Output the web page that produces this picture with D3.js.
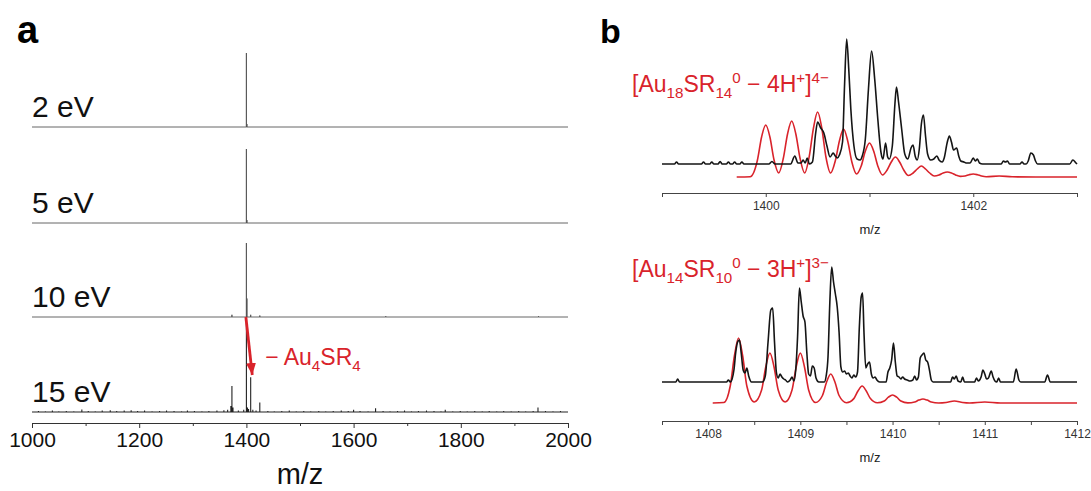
<!DOCTYPE html>
<html>
<head>
<meta charset="utf-8">
<script src="https://cdn.jsdelivr.net/npm/d3@7"></script>
<style>
  body { margin: 0; background: #fff; }
  svg text { font-family: "Liberation Sans", Arial, sans-serif; }
</style>
</head>
<body>
<div id="container"></div>
<script>
// ---------- panel a : stick spectra at 4 collision energies ----------
let energyLabels = ["2 eV", "5 eV", "10 eV", "15 eV"];
// [m/z, relative height]  (100 = tallest peak in the 2/5/10 eV traces)
let peaks2eV = [[1400, 100], [1401, 4]];
let peaks5eV = [[1400, 100], [1401, 4]];
let peaks10eV = [[1373, 3], [1400, 100], [1401, 25], [1408, 3], [1425, 2], [1660, 1], [1945, 1]];
let peaks15eV = [
  [1012,1.5],[1025,1],[1038,2],[1050,1],[1064,1.5],[1078,1],[1093,3.5],[1105,1.5],[1118,1],[1131,2],
  [1146,2.5],[1158,1.5],[1172,2],[1185,2.5],[1197,1.5],[1210,2],[1224,1],[1238,1.5],[1251,2],[1265,1.5],
  [1279,1],[1290,2],[1303,1.5],[1317,1],[1330,1.5],[1345,2],[1358,2.5],[1365,3],[1371,8],[1373,35],[1375,6],[1385,2],
  [1395,3],[1400,127],[1402,6],[1404,4],[1408,47],[1412,3],[1418,2],[1425,13],[1440,1.5],[1452,1],[1466,1.5],
  [1480,2],[1493,1],[1507,1.5],[1520,1],[1535,1.5],[1548,1],[1562,1.5],[1577,2],[1590,1.5],[1600,3],
  [1612,1.5],[1627,1],[1641,5],[1655,1.5],[1668,1],[1682,1.5],[1695,2],[1708,1],[1721,1.5],[1736,2],
  [1750,1.5],[1763,1],[1771,3],[1785,1],[1799,1.5],[1812,1],[1826,1.5],[1840,1],[1853,1.5],[1867,1],
  [1880,1.5],[1894,1],[1908,1.5],[1921,1],[1935,1.5],[1944,6],[1958,1.5],[1972,1],[1986,1.5]
];
let aMajorTicks = [1000, 1200, 1400, 1600, 1800, 2000];
let aMinorTicks = [1100, 1300, 1500, 1700, 1900];

// ---------- panel b : isotope patterns (experiment black, simulation red) ----------
let topExp = [
  [1399.00,0],[1399.12,0],[1399.14,2],[1399.16,0],
  [1399.38,0],[1399.40,2],[1399.42,0],[1399.46,0],[1399.48,2],[1399.50,0],[1399.54,0],[1399.56,2.5],[1399.58,0],
  [1399.62,0],[1399.64,2],[1399.66,0],[1399.68,0],[1399.70,2],[1399.72,0],[1399.75,0],[1399.77,2],[1399.79,0],
  [1400.03,0],[1400.06,2.5],[1400.09,0],
  [1400.24,0],[1400.28,8],[1400.31,1],[1400.34,1],[1400.36,4],[1400.38,1],[1400.40,6],[1400.42,0],
  [1400.45,2],[1400.48,30],[1400.50,42],[1400.53,36],[1400.56,31],[1400.59,18],[1400.62,7],[1400.65,11],[1400.67,8],[1400.69,6],[1400.71,9],
  [1400.74,22],[1400.76,80],[1400.78,125],[1400.80,95],[1400.82,55],[1400.85,18],[1400.88,5],[1400.91,4],[1400.93,8],
  [1400.96,25],[1400.99,75],[1401.02,113],[1401.05,85],[1401.08,45],[1401.11,12],[1401.13,5],[1401.155,21],[1401.175,7],[1401.19,5],
  [1401.22,18],[1401.245,60],[1401.26,77],[1401.28,62],[1401.31,35],[1401.34,10],[1401.37,5],[1401.40,16],[1401.42,19],[1401.44,8],[1401.46,4],
  [1401.48,15],[1401.50,40],[1401.52,49],[1401.54,28],[1401.56,10],[1401.59,4],[1401.62,5],[1401.65,8],[1401.67,4],[1401.70,2],
  [1401.72,6],[1401.75,22],[1401.77,28],[1401.79,22],[1401.81,14],[1401.84,16],[1401.86,8],[1401.88,3],[1401.91,2],[1401.93,1],
  [1401.97,1],[1402.00,6],[1402.02,3],[1402.04,5],[1402.06,1],[1402.09,0],
  [1402.27,0],[1402.29,3],[1402.31,2],[1402.33,3],[1402.35,0],
  [1402.45,0],[1402.47,2],[1402.49,0],[1402.51,0],[1402.53,3],[1402.555,11],[1402.58,9],[1402.60,3],[1402.62,0],
  [1402.93,0],[1402.96,4],[1402.99,1],[1403.00,0]
];
let topSim = [
  [1399.72,0],[1399.85,0.3],[1399.92,17],[1399.96,40],[1400.00,52],[1400.04,40],[1400.08,17],
  [1400.125,4],[1400.17,19],[1400.21,43],[1400.25,56],[1400.29,43],[1400.33,19],
  [1400.375,4],[1400.42,21],[1400.46,49],[1400.50,65],[1400.54,49],[1400.58,20],
  [1400.625,4],[1400.67,16],[1400.71,36],[1400.75,48],[1400.79,36],[1400.83,15],
  [1400.875,3],[1400.92,11],[1400.96,26],[1401.00,34],[1401.04,26],[1401.08,11],
  [1401.125,2],[1401.17,7],[1401.21,15],[1401.25,20],[1401.29,15],[1401.33,7],
  [1401.375,1.5],[1401.42,4],[1401.46,8],[1401.50,11],[1401.54,8],[1401.58,4],
  [1401.625,1],[1401.67,2],[1401.71,4],[1401.75,5],[1401.79,4],[1401.83,2],
  [1401.875,0.6],[1401.92,1],[1401.96,2.3],[1402.00,3],[1402.04,2.3],[1402.08,1],
  [1402.125,0.3],[1402.25,1],[1402.375,0.2],[1402.6,0],[1403.00,0]
];
let bottomExp = [
  [1407.50,0],[1407.65,0],[1407.67,3],[1407.69,0],
  [1408.20,0],[1408.22,2],[1408.24,0],[1408.26,3],[1408.28,12],[1408.30,30],[1408.32,40],[1408.34,42],[1408.36,28],[1408.38,12],[1408.40,9],[1408.42,14],[1408.44,6],[1408.47,0],
  [1408.59,0],[1408.62,6],[1408.65,40],[1408.68,72],[1408.70,74],[1408.72,40],[1408.74,10],[1408.76,4],[1408.78,8],[1408.80,5],[1408.82,3],[1408.84,2],[1408.86,0],[1408.89,2],[1408.91,5],[1408.93,1],
  [1408.95,12],[1408.97,45],[1408.99,94],[1409.01,80],[1409.03,66],[1409.05,60],[1409.07,30],[1409.09,8],[1409.11,6],[1409.13,16],[1409.15,14],[1409.17,4],[1409.20,0],
  [1409.26,0],[1409.28,6],[1409.30,25],[1409.32,80],[1409.34,115],[1409.36,100],[1409.38,88],[1409.40,75],[1409.42,50],[1409.44,15],[1409.46,10],[1409.48,11],[1409.50,8],[1409.52,9],[1409.54,6],[1409.56,4],[1409.58,7],[1409.60,5],[1409.62,10],
  [1409.64,55],[1409.66,85],[1409.675,89],[1409.69,50],[1409.71,14],[1409.73,18],[1409.75,20],[1409.77,8],[1409.79,4],[1409.81,5],[1409.83,2],[1409.86,0],
  [1409.93,0],[1409.95,10],[1409.97,14],[1409.99,22],[1410.01,39],[1410.03,20],[1410.05,6],[1410.07,5],[1410.09,3],[1410.11,5],[1410.13,3],[1410.16,2],[1410.19,1],[1410.22,2],[1410.24,6],[1410.26,2],
  [1410.28,5],[1410.30,24],[1410.32,27],[1410.34,29],[1410.36,22],[1410.38,20],[1410.40,12],[1410.42,2],[1410.44,0],
  [1410.63,0],[1410.65,5],[1410.67,3],[1410.69,6],[1410.71,1],[1410.74,0],[1410.76,5],[1410.78,0],
  [1410.89,0],[1410.91,4],[1410.93,1],[1410.96,5],[1410.98,12],[1411.00,8],[1411.02,3],[1411.04,4],[1411.07,11],[1411.09,5],[1411.11,1],[1411.13,0],[1411.15,4],[1411.17,0],
  [1411.31,0],[1411.34,13],[1411.37,2],[1411.39,0],
  [1411.65,0],[1411.68,7],[1411.71,0],[1412.00,0]
];
let bottomSim = [
  [1408.05,0],[1408.17,0.5],[1408.24,17],[1408.285,47],[1408.33,65],[1408.375,47],[1408.42,17],
  [1408.50,1],[1408.58,13],[1408.625,36],[1408.67,50],[1408.715,36],[1408.76,13],
  [1408.835,1],[1408.91,13],[1408.955,36],[1409.00,50],[1409.045,36],[1409.09,13],
  [1409.165,0.5],[1409.24,7.5],[1409.285,21],[1409.33,29],[1409.375,21],[1409.42,7.5],
  [1409.50,0.3],[1409.58,4.4],[1409.625,12],[1409.67,17],[1409.715,12],[1409.76,4.4],
  [1409.835,0.2],[1409.91,2],[1409.955,5.8],[1410.00,8],[1410.045,5.8],[1410.09,2],
  [1410.165,0.1],[1410.24,1],[1410.285,2.9],[1410.33,4],[1410.375,2.9],[1410.42,1],
  [1410.50,0],[1410.58,0.5],[1410.67,2],[1410.76,0.5],[1410.835,0],[1411.00,1],[1411.17,0],[1412.00,0]
];
let topTicks = [1399, 1400, 1401, 1402, 1403];
let topTickLabels = [1400, 1402];
let bottomMajorTicks = [1408, 1409, 1410, 1411, 1412];
let bottomMinorTicks = [1407.5, 1408.5, 1409.5, 1410.5, 1411.5];

// label pieces: [text, "n" | "sub" | "sup"]
let topLabel = [["[Au","n"],["18","sub"],["SR","n"],["14","sub"],["0","sup"],[" \u2212 4H","n"],["+","sup"],["]","n"],["4\u2212","sup"]];
let bottomLabel = [["[Au","n"],["14","sub"],["SR","n"],["10","sub"],["0","sup"],[" \u2212 3H","n"],["+","sup"],["]","n"],["3\u2212","sup"]];
let lossLabel = [["\u2212 Au","n"],["4","sub"],["SR","n"],["4","sub"]];

let w = 1091;
let h = 491;
let red = "#d9232b";

let viz = d3.select("#container")
  .append("svg")
    .attr("width", w)
    .attr("height", h)
;
viz.append("rect").attr("width", w).attr("height", h).attr("fill", "#fff");

viz.append("defs").append("marker")
    .attr("id", "arrowhead")
    .attr("markerUnits", "userSpaceOnUse")
    .attr("viewBox", "0 0 12 10")
    .attr("refX", 12).attr("refY", 5)
    .attr("markerWidth", 12).attr("markerHeight", 10)
    .attr("orient", "auto")
  .append("path")
    .attr("d", "M0,0 L12,5 L0,10 Z")
    .attr("fill", red)
;

// writes a text with sub/superscripts
function richText(g, pieces, x, y, size, color){
  let t = g.append("text").attr("x", x).attr("y", y).attr("font-size", size).attr("fill", color);
  let shift = 0;
  pieces.forEach(function(p){
    let target = p[1]=="sub" ? size*0.28 : (p[1]=="sup" ? -size*0.4 : 0);
    t.append("tspan")
      .attr("dy", target - shift)
      .attr("font-size", p[1]=="n" ? size : size*0.66)
      .text(p[0]);
    shift = target;
  });
  return t;
}

// ================= panel a =================
let aGroup = viz.append("g").classed("panelA", true);
let aX = d3.scaleLinear().domain([1000, 2000]).range([32, 568]);
let aY = d3.scaleLinear().domain([0, 100]).range([0, -74]);
let aBase = [127, 223, 317, 412];
let aSpectra = [peaks2eV, peaks5eV, peaks10eV, peaks15eV];

function stickPoints(peaks){
  let pts = [[1000, 0]];
  peaks.slice().sort((a,b)=>a[0]-b[0]).forEach(function(p){
    pts.push([p[0], 0], [p[0], p[1]], [p[0], 0]);
  });
  pts.push([2000, 0]);
  return pts;
}
let stickLine = d3.line().x(d=>aX(d[0])).y(d=>aY(d[1]));

aSpectra.forEach(function(peaks, i){
  let g = aGroup.append("g").attr("transform", "translate(0," + aBase[i] + ")");
  g.append("path")
    .attr("d", stickLine(stickPoints(peaks)))
    .attr("fill", "none")
    .attr("stroke", i==3 ? "#222" : "#555")
    .attr("stroke-width", i==3 ? 1.1 : 0.9)
  ;
  g.append("text")
    .attr("x", 32).attr("y", -10)
    .attr("font-size", 30)
    .attr("fill", "#111")
    .text(energyLabels[i]);
});

// x axis of panel a
let aAxisY = 423;
let aAxisMajor = d3.axisBottom(aX).tickValues(aMajorTicks).tickSize(5).tickSizeOuter(0).tickFormat(d3.format("d"));
let aAxisMinor = d3.axisBottom(aX).tickValues(aMinorTicks).tickSize(3).tickSizeOuter(0).tickFormat("");
let aMinorG = aGroup.append("g").attr("transform", "translate(0," + aAxisY + ")").call(aAxisMinor);
let aMajorG = aGroup.append("g").attr("transform", "translate(0," + aAxisY + ")").call(aAxisMajor);
aMinorG.select(".domain").remove();
aMajorG.select(".domain").attr("stroke", "#333");
aGroup.selectAll(".tick line").attr("stroke", "#333");
aMajorG.selectAll("text").attr("font-size", 21).attr("fill", "#111").attr("y", 9).attr("font-family", "Liberation Sans, Arial, sans-serif");

aGroup.append("text")
  .attr("x", aX(1500)).attr("y", 484)
  .attr("text-anchor", "middle")
  .attr("font-size", 29)
  .attr("fill", "#111")
  .text("m/z");

// arrow: loss of Au4SR4 from the 10 eV parent to the 15 eV fragment
aGroup.append("line")
  .attr("x1", aX(1399)).attr("y1", aBase[2] + aY(0))
  .attr("x2", aX(1411)).attr("y2", aBase[3] + aY(50))
  .attr("stroke", red)
  .attr("stroke-width", 2.8)
  .attr("marker-end", "url(#arrowhead)")
;
richText(aGroup, lossLabel, aX(1435), 365, 23, red);

aGroup.append("text")
  .attr("x", 17).attr("y", 43)
  .attr("font-size", 38).attr("font-weight", "bold").attr("fill", "#000")
  .text("a");

// ================= panel b =================
let bGroup = viz.append("g").classed("panelB", true);
bGroup.append("text")
  .attr("x", 600).attr("y", 43)
  .attr("font-size", 34).attr("font-weight", "bold").attr("fill", "#000")
  .text("b");

let profile = function(xs, base){
  return d3.line().x(d=>xs(d[0])).y(d=>base - d[1]).curve(d3.curveMonotoneX);
};

function drawSub(opts){
  let xs = d3.scaleLinear().domain(opts.domain).range([662, 1077]);
  bGroup.append("path")
    .attr("d", profile(xs, opts.simBase)(opts.sim))
    .attr("fill", "none").attr("stroke", red).attr("stroke-width", 1.6);
  bGroup.append("path")
    .attr("d", profile(xs, opts.expBase)(opts.exp))
    .attr("fill", "none").attr("stroke", "#151515").attr("stroke-width", 1.6);

  if(opts.minor){
    let mg = bGroup.append("g").attr("transform", "translate(0," + opts.axisY + ")")
      .call(d3.axisBottom(xs).tickValues(opts.minor).tickSize(4).tickSizeOuter(0).tickFormat(""));
    mg.select(".domain").remove();
  }
  let ag = bGroup.append("g").attr("transform", "translate(0," + opts.axisY + ")")
    .call(d3.axisBottom(xs).tickValues(opts.ticks).tickSize(4).tickSizeOuter(0)
      .tickFormat(d => opts.labels.indexOf(d) >= 0 ? d3.format("d")(d) : ""));
  ag.select(".domain").attr("stroke", "#444");
  bGroup.selectAll(".tick line").attr("stroke", "#444");
  ag.selectAll("text").attr("font-size", 12).attr("fill", "#333").attr("y", 8)
    .attr("font-family", "Liberation Sans, Arial, sans-serif");

  bGroup.append("text")
    .attr("x", 870).attr("y", opts.axisY + 41)
    .attr("text-anchor", "middle").attr("font-size", 13).attr("fill", "#222")
    .text("m/z");

  richText(bGroup, opts.label, 632, opts.labelY, 23, red);
}

drawSub({
  domain: [1399, 1403], exp: topExp, sim: topSim, expBase: 164, simBase: 177,
  axisY: 193, ticks: topTicks, labels: topTickLabels, minor: null,
  label: topLabel, labelY: 92
});
drawSub({
  domain: [1407.5, 1412], exp: bottomExp, sim: bottomSim, expBase: 382, simBase: 403,
  axisY: 421, ticks: bottomMajorTicks, labels: bottomMajorTicks, minor: bottomMinorTicks,
  label: bottomLabel, labelY: 277
});
</script>
</body>
</html>
